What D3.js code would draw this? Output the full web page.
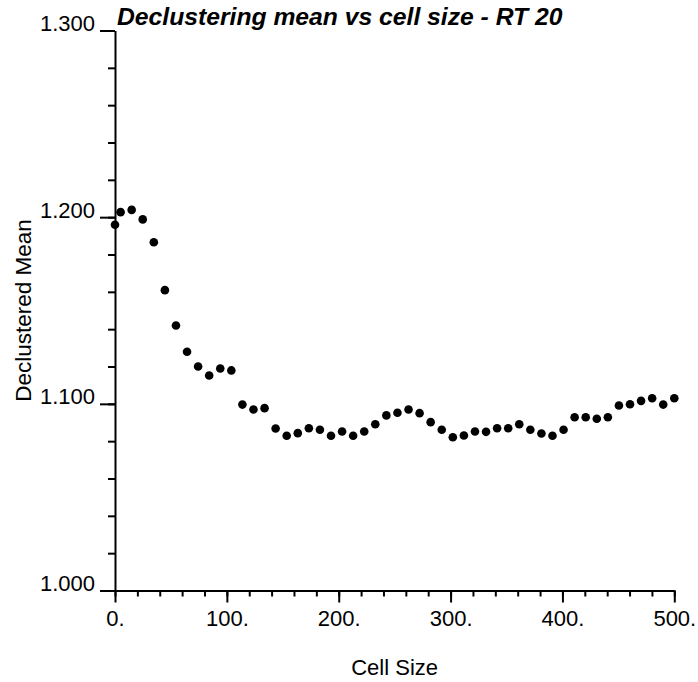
<!DOCTYPE html>
<html>
<head>
<meta charset="utf-8">
<script src="https://cdn.jsdelivr.net/npm/d3@7"></script>
<style>
  body { margin: 0; background: #fff; }
  text { font-family: "Liberation Sans", Arial, Helvetica, sans-serif; }
</style>
</head>
<body>
<div id="chart"></div>
<script>
// cell sizes
const cellSizes = [0, 5, 14.9, 24.8, 34.7, 44.6, 54.5, 64.4, 74.3, 84.2, 94.1,
  104, 113.9, 123.8, 133.7, 143.6, 153.5, 163.4, 173.3, 183.2, 193.1,
  203, 212.9, 222.8, 232.7, 242.6, 252.5, 262.4, 272.3, 282.2, 292.1,
  302, 311.9, 321.8, 331.7, 341.6, 351.5, 361.4, 371.3, 381.2, 391.1,
  401, 410.9, 420.8, 430.7, 440.6, 450.5, 460.4, 470.3, 480.2, 490.1, 500];

// declustered mean for each cell size
const declusMeans = [1.1959, 1.2027, 1.2039, 1.1988, 1.1866, 1.1609, 1.1420, 1.1279, 1.1200, 1.1152, 1.1189,
  1.1179, 1.0996, 1.0970, 1.0977, 1.0868, 1.0829, 1.0843, 1.0869, 1.0861, 1.0829,
  1.0852, 1.0829, 1.0852, 1.0891, 1.0938, 1.0952, 1.0970, 1.0950, 1.0902, 1.0861,
  1.0821, 1.0830, 1.0852, 1.0850, 1.0869, 1.0869, 1.0891, 1.0861, 1.0841, 1.0829,
  1.0861, 1.0928, 1.0928, 1.0920, 1.0928, 1.0991, 1.0998, 1.1016, 1.1030, 1.0996, 1.1030];

const xTicks = [0, 100, 200, 300, 400, 500];
const yTicks = [1.0, 1.1, 1.2, 1.3];

const width = 698, height = 682;

const svg = d3.select("#chart").append("svg")
  .attr("width", width)
  .attr("height", height)
  .style("background", "#fff");

const x = d3.scaleLinear().domain([0, 500]).range([115, 674.3]);
const y = d3.scaleLinear().domain([1.0, 1.3]).range([590.5, 30.5]);

// minor ticks
svg.append("g")
  .attr("transform", `translate(0,${y(1.0)})`)
  .call(d3.axisBottom(x).tickValues(x.ticks(25)).tickSize(6).tickFormat(""))
  .call(g => g.select(".domain").remove());

svg.append("g")
  .attr("transform", `translate(${x(0)},0)`)
  .call(d3.axisLeft(y).tickValues(y.ticks(15)).tickSize(7).tickFormat(""))
  .call(g => g.select(".domain").remove());

// major ticks + labels
const xAxis = svg.append("g")
  .attr("transform", `translate(0,${y(1.0)})`)
  .call(d3.axisBottom(x).tickValues(xTicks).tickSize(12).tickSizeOuter(0)
    .tickPadding(8).tickFormat(d => d + "."));

const yAxis = svg.append("g")
  .attr("transform", `translate(${x(0)},0)`)
  .call(d3.axisLeft(y).tickValues(yTicks).tickSize(15).tickSizeOuter(0)
    .tickPadding(5).tickFormat(d3.format(".3f")));

yAxis.selectAll(".tick text").attr("dy", "0");

svg.selectAll(".domain, .tick line")
  .attr("stroke", "#000")
  .attr("stroke-width", 2);

svg.selectAll(".tick text")
  .attr("fill", "#000")
  .style("font-size", "22px");

// points
svg.append("g")
  .selectAll("circle")
  .data(cellSizes.map((c, i) => ({ c, m: declusMeans[i] })))
  .join("circle")
  .attr("cx", d => x(d.c))
  .attr("cy", d => y(d.m))
  .attr("r", 4.3)
  .attr("fill", "#000");

// title
svg.append("text")
  .attr("x", 117)
  .attr("y", 25)
  .attr("font-size", "24.7px")
  .attr("font-weight", "bold")
  .attr("font-style", "italic")
  .attr("fill", "#000")
  .text("Declustering mean vs cell size - RT 20");

// axis titles
svg.append("text")
  .attr("x", (x(0) + x(500)) / 2)
  .attr("y", 675)
  .attr("text-anchor", "middle")
  .attr("font-size", "22px")
  .attr("fill", "#000")
  .text("Cell Size");

svg.append("text")
  .attr("transform", `translate(31,${(y(1.0) + y(1.3)) / 2}) rotate(-90)`)
  .attr("text-anchor", "middle")
  .attr("font-size", "22.5px")
  .attr("fill", "#000")
  .text("Declustered Mean");
</script>
</body>
</html>
